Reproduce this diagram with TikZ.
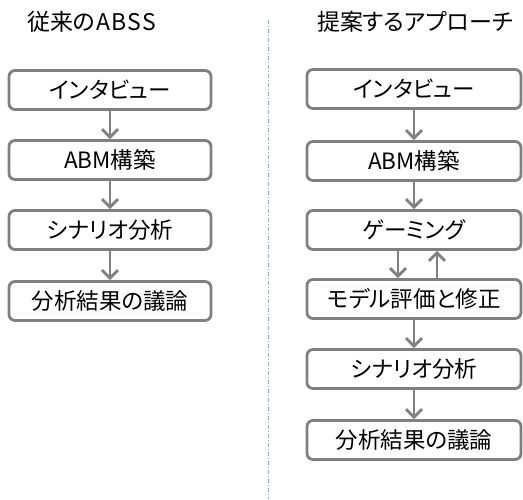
\documentclass[tikz,border=0pt]{standalone}
\usepackage{fontspec}
\newfontfamily\jp[RawFeature=+palt]{Noto Sans CJK JP}
\usetikzlibrary{arrows.meta}
\definecolor{boxgray}{HTML}{808080}
\definecolor{sepblue}{HTML}{8EAADB}
\tikzset{
  x=1pt, y=-1pt,
  stepbox/.style={draw=boxgray, line width=2.8pt, rounded corners=6pt, fill=white,
    minimum height=39pt, inner sep=0pt, font=\jp\fontsize{22.5}{26}\selectfont, text=black},
  lbox/.style={stepbox, minimum width=202pt},
  rbox/.style={stepbox, minimum width=214pt},
  flow/.style={draw=boxgray, line width=2.8pt, -{Straight Barb[length=8pt,width=16pt,line width=2.8pt]}},
  ttl/.style={font=\jp\fontsize{23}{27}\selectfont, inner sep=0pt, anchor=west}
}
\begin{document}
\begin{tikzpicture}
\useasboundingbox (0,0) rectangle (523,499);
% titles
\node[ttl] (tl) at (27,22) {従来の\kern1pt A\kern1pt B\kern1pt S\kern1pt S};
\node[ttl] (tr) at (317,22) {提案するアプローチ};
% separator
\coordinate (s1) at (268,20);
\coordinate (s2) at (268,499);
\draw[sepblue, line width=1pt, dash pattern=on 4pt off 2pt on 1pt off 2pt] (s1) -- (s2);
% left column
\node[lbox] (l1) at (110,90) {インタビュー};
\node[lbox] (l2) at (110,160) {ABM構築};
\node[lbox] (l3) at (110,230) {シナリオ分析};
\node[lbox] (l4) at (110,301) {分析結果の議論};
\draw[flow] (l1) -- (l2);
\draw[flow] (l2) -- (l3);
\draw[flow] (l3) -- (l4);
% right column
\node[rbox] (r1) at (414,89) {インタビュー};
\node[rbox] (r2) at (414,161) {ABM構築};
\node[rbox] (r3) at (414,230) {ゲーミング};
\node[rbox] (r4) at (414,299) {モデル評価と修正};
\node[rbox] (r5) at (414,369) {シナリオ分析};
\node[rbox] (r6) at (414,440) {分析結果の議論};
\draw[flow] (r1) -- (r2);
\draw[flow] (r2) -- (r3);
\draw[flow] (r3.south -| 398,0) -- (r4.north -| 398,0);
\draw[flow] (r4.north -| 437,0) -- (r3.south -| 437,0);
\draw[flow] (r4) -- (r5);
\draw[flow] (r5) -- (r6);
\end{tikzpicture}
\end{document}
